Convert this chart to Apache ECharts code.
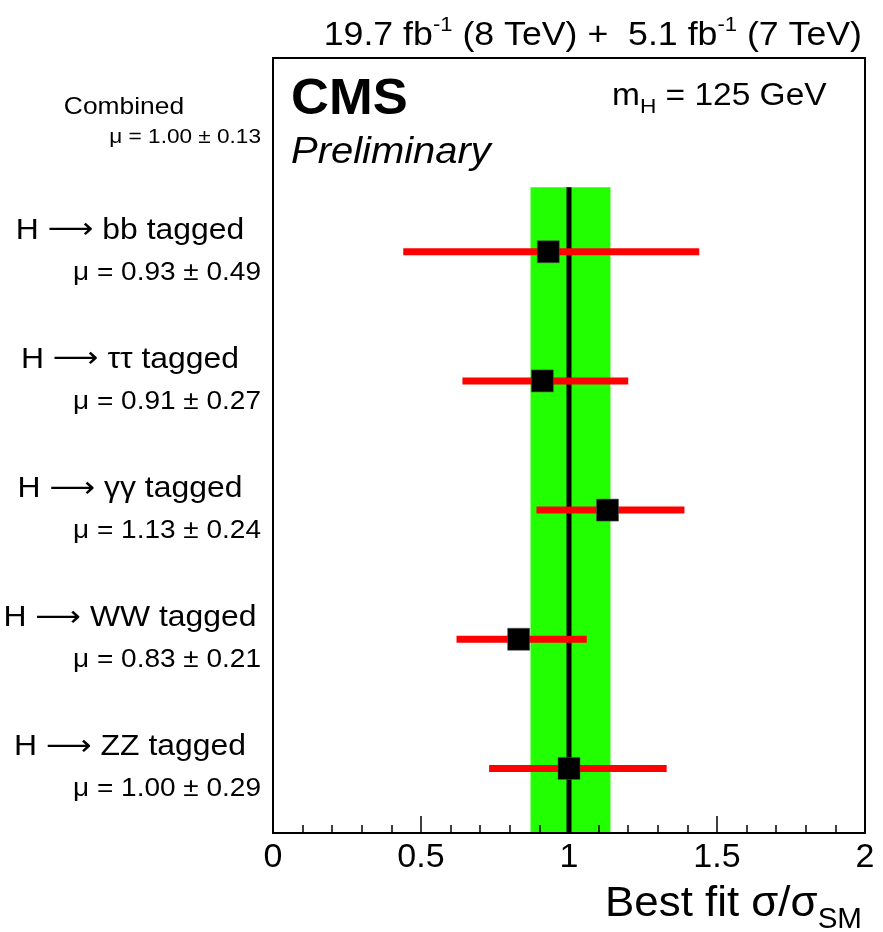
<!DOCTYPE html>
<html>
<head>
<meta charset="utf-8">
<title>Signal strength by tagged channel</title>
<script src="https://cdn.jsdelivr.net/npm/echarts@6/dist/echarts.min.js"></script>
<style>
  html, body { margin: 0; padding: 0; background: #ffffff; }
  #chart { width: 883px; height: 932px; }
</style>
</head>
<body>
<div id="chart"></div>
<script>
// Best-fit signal strength per tagged channel (rows listed top to bottom)
const decayModes = ['bb', '\u03c4\u03c4', '\u03b3\u03b3', 'WW', 'ZZ'];
const muBest = [0.93, 0.91, 1.13, 0.83, 1.00];
const muErr = [0.49, 0.27, 0.24, 0.21, 0.29];
const muLow = [0.44, 0.64, 0.89, 0.62, 0.73];
const muHigh = [1.44, 1.20, 1.39, 1.06, 1.33];
const rowPos = [4.5, 3.5, 2.5, 1.5, 0.5];

// Combined fit
const combLabel = 'Combined';
const combMu = 1.00;
const combErr = 0.13;
const combLow = 0.87;
const combHigh = 1.14;
const combRow = 5.5;
const bandRows = [0, 5];

// axes
const xMin = 0, xMax = 2, xStep = 0.5;
const yMin = 0, yMax = 6;

const FONT = '"Liberation Sans", Arial, Helvetica, sans-serif';
const ARROW_FONT = '"DejaVu Sans", sans-serif';

const fmt = v => v.toFixed(2);

const barData = decayModes.map((m, i) => [muLow[i], muHigh[i], rowPos[i]]);
const pointData = decayModes.map((m, i) => [muBest[i], rowPos[i]]);
const labelData = decayModes.map((m, i) => [0, rowPos[i], '{t|H }{r|\u27f6}{t| ' + m + ' tagged}', 'μ = ' + fmt(muBest[i]) + ' ± ' + fmt(muErr[i]), 0]);
labelData.push([0, combRow, '{c|' + combLabel + '}', 'μ = ' + fmt(combMu) + ' ± ' + fmt(combErr), 1]);

const chart = echarts.init(document.getElementById('chart'), null, { renderer: 'canvas' });

chart.setOption({
  animation: false,
  backgroundColor: '#ffffff',
  grid: {
    left: 273, right: 18, top: 58, bottom: 99,
    show: true, borderColor: '#000', borderWidth: 2, backgroundColor: 'transparent'
  },
  xAxis: {
    type: 'value', min: xMin, max: xMax, interval: xStep, z: 10,
    axisLine: { show: true, lineStyle: { color: '#000', width: 2 } },
    axisTick: { show: true, inside: true, length: 17, lineStyle: { color: '#000', width: 1.5 } },
    minorTick: { show: true, splitNumber: 5, length: 8, lineStyle: { color: '#000', width: 1.5 } },
    splitLine: { show: false },
    axisLabel: { color: '#000', fontSize: 34, fontFamily: FONT, margin: 8 }
  },
  yAxis: {
    type: 'value', min: yMin, max: yMax, show: false
  },
  graphic: [
    {
      type: 'text', x: 862, y: 36, scaleX: 1.05,
      style: {
        text: '{a|19.7 fb}{s|-1}{a| (8 TeV) +  5.1 fb}{s|-1}{a| (7 TeV)}',
        align: 'right', verticalAlign: 'middle',
        rich: {
          a: { fontSize: 34, fontFamily: FONT, fill: '#000' },
          s: { fontSize: 21, fontFamily: FONT, fill: '#000', padding: [0, 0, 22, 0] }
        }
      }
    },
    {
      type: 'text', x: 291, y: 100, scaleX: 1.05,
      style: { text: 'CMS', font: 'bold 50px ' + FONT, fill: '#000', align: 'left', verticalAlign: 'middle' }
    },
    {
      type: 'text', x: 291, y: 153, scaleX: 1.08,
      style: { text: 'Preliminary', font: 'italic 37px ' + FONT, fill: '#000', align: 'left', verticalAlign: 'middle' }
    },
    {
      type: 'text', x: 612, y: 96, scaleX: 1.08,
      style: {
        text: '{a|m}{s|H}{a| = 125 GeV}',
        align: 'left', verticalAlign: 'middle',
        rich: {
          a: { fontSize: 31, fontFamily: FONT, fill: '#000' },
          s: { fontSize: 21, fontFamily: FONT, fill: '#000', padding: [22, 0, 0, 0] }
        }
      }
    },
    {
      type: 'text', x: 862, y: 904, scaleX: 1.02,
      style: {
        text: '{a|Best fit σ/σ}{s|SM}',
        align: 'right', verticalAlign: 'middle',
        rich: {
          a: { fontSize: 43, fontFamily: FONT, fill: '#000' },
          s: { fontSize: 29, fontFamily: FONT, fill: '#000', padding: [32, 0, 0, 0] }
        }
      }
    }
  ],
  series: [
    {
      // combined uncertainty band
      type: 'custom', z: 1, clip: true,
      data: [[combLow, combHigh, bandRows[0], bandRows[1]]],
      renderItem: (params, api) => {
        const p0 = api.coord([api.value(0), api.value(3)]);
        const p1 = api.coord([api.value(1), api.value(2)]);
        return { type: 'rect', shape: { x: p0[0], y: p0[1], width: p1[0] - p0[0], height: p1[1] - p0[1] },
                 style: { fill: '#22ff00' } };
      }
    },
    {
      // combined best fit
      type: 'line', z: 2, showSymbol: false, silent: true,
      data: [[combMu, bandRows[0]], [combMu, bandRows[1]]],
      lineStyle: { color: '#000', width: 5 }
    },
    {
      // per-channel uncertainties
      type: 'custom', z: 3,
      data: barData,
      renderItem: (params, api) => {
        const a = api.coord([api.value(0), api.value(2)]);
        const b = api.coord([api.value(1), api.value(2)]);
        return { type: 'line', shape: { x1: a[0], y1: a[1], x2: b[0], y2: b[1] },
                 style: { stroke: '#ff0000', lineWidth: 7, lineCap: 'butt' } };
      }
    },
    {
      // per-channel best fit
      type: 'scatter', z: 4, symbol: 'rect', symbolSize: 22,
      itemStyle: { color: '#000', opacity: 1, borderColor: '#555', borderWidth: 0.6 },
      data: pointData
    },
    {
      // row labels to the left of the frame
      type: 'custom', z: 5, clip: false, silent: true,
      data: labelData,
      encode: { x: 0, y: 1 },
      renderItem: (params, api) => {
        const d = labelData[params.dataIndex];
        const yc = api.coord([0, d[1]])[1];
        const small = d[4] === 1;
        return {
          type: 'group',
          children: [
            { type: 'text', x: small ? 124 : 130, y: yc - (small ? 15 : 21), scaleX: small ? 1.1 : 1.1,
              style: {
                text: d[2], align: 'center', verticalAlign: 'middle',
                rich: {
                  t: { fontSize: 29, fontFamily: FONT, fill: '#000' },
                  r: { fontSize: 29, fontFamily: ARROW_FONT, fill: '#000' },
                  c: { fontSize: 24, fontFamily: FONT, fill: '#000' }
                }
              } },
            { type: 'text', x: 261, y: yc + (small ? 15 : 21), scaleX: small ? 1.13 : 1.12,
              style: { text: d[3], font: (small ? 20 : 25) + 'px ' + FONT, fill: '#000', align: 'right', verticalAlign: 'middle' } }
          ]
        };
      }
    }
  ]
});
</script>
</body>
</html>
